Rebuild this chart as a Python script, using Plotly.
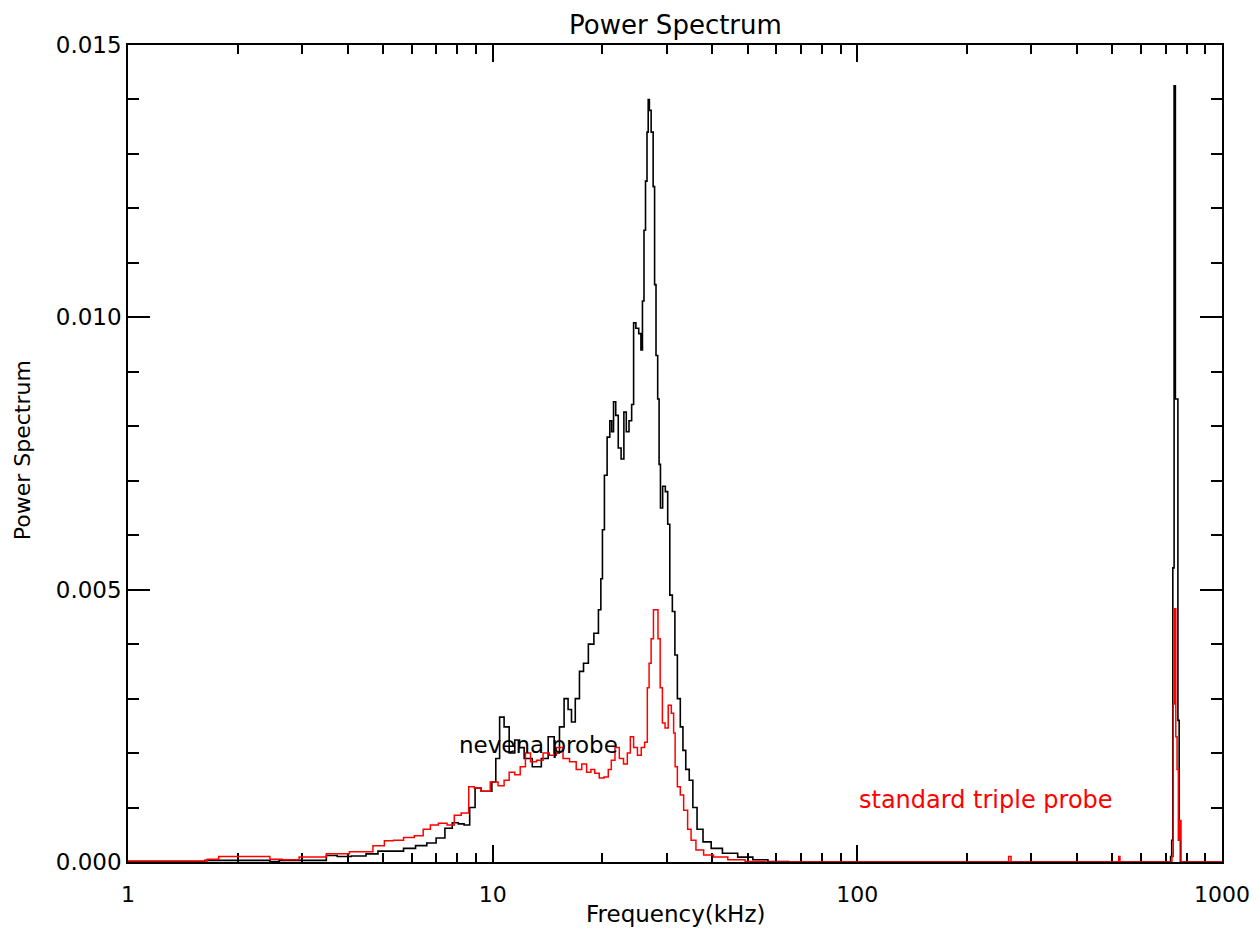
import plotly.graph_objects as go

# ---- data (frequency in kHz, power) ----
nevena_f = [1.0, 1.6, 1.65, 2.4, 2.5, 2.7, 3.4, 3.6, 3.9, 4.3, 4.7, 5.0, 5.5, 5.9, 6.4, 6.8,
            7.2, 7.6, 7.9, 8.2, 8.5, 8.8, 9.1, 9.5, 9.8, 10.1, 10.3, 10.6, 10.9, 11.3, 11.7,
            12.0, 12.4, 13.3, 13.9, 14.5, 15.0, 15.5, 15.9, 16.3, 16.6, 17.1, 17.5, 18.0,
            18.6, 19.3, 19.7, 19.9, 20.1, 20.4, 20.8, 21.1, 21.3, 21.6, 21.9, 22.3, 22.7,
            23.1, 23.4, 23.9, 24.2, 24.5, 24.9, 25.4, 25.6, 25.9, 26.1, 26.4, 26.6, 26.8,
            27.0, 27.4, 27.7, 27.9, 28.2, 28.5, 28.7, 29.0, 29.5, 30.0, 30.4, 30.8, 31.4,
            31.8, 32.4, 33.0, 33.5, 34.2, 35.0, 35.8, 36.9, 38.6, 40.9, 44.5, 49.6, 53.9,
            60.0, 70.0, 720.0, 726.0, 730.0, 736.0, 742.0, 748.0, 754.0, 760.0, 766.0,
            772.0, 1000.0]
nevena_p = [0.00001, 0.00001, 0.00003, 0.00003, 0.00001, 0.00003, 0.00003, 0.00012, 0.0001,
            0.00011, 0.00015, 0.0002, 0.0002, 0.00025, 0.0003, 0.00035, 0.00044, 0.00062,
            0.00072, 0.0007, 0.00068, 0.001, 0.00136, 0.0013, 0.0013, 0.00147, 0.0019,
            0.00266, 0.00248, 0.002, 0.00224, 0.0021, 0.0019, 0.00175, 0.0019, 0.0023,
            0.002, 0.00248, 0.003, 0.0028, 0.00257, 0.003, 0.0035, 0.00365, 0.004, 0.0042,
            0.00463, 0.0052, 0.0061, 0.0071, 0.0078, 0.0081, 0.0079, 0.00845, 0.0082,
            0.0076, 0.0074, 0.00826, 0.0079, 0.0081, 0.0084, 0.0099, 0.0098, 0.0097,
            0.0094, 0.0103, 0.0116, 0.0125, 0.0134, 0.0140, 0.0138, 0.0134, 0.0124, 0.0106,
            0.0093, 0.0085, 0.0073, 0.0065, 0.0069, 0.0068, 0.0062, 0.0049, 0.0046, 0.0038,
            0.003, 0.00248, 0.00205, 0.0017, 0.0015, 0.001, 0.0006, 0.00037, 0.00025,
            0.00016, 0.00009, 0.00004, 0.00001, 0.0, 0.0, 0.0001, 0.0004, 0.0054, 0.01425,
            0.0085, 0.0085, 0.0026, 0.0004, 0.0, 0.0]

triple_f = [1.0, 1.6, 1.7, 1.85, 2.4, 2.5, 2.8, 3.1, 3.4, 3.6, 3.9, 4.2, 4.5, 4.9, 5.2, 5.5,
            5.9, 6.3, 6.6, 6.9, 7.3, 7.7, 8.0, 8.4, 8.8, 9.0, 9.6, 10.1, 10.6, 10.9, 11.3,
            11.7, 12.1, 12.5, 12.9, 13.5, 14.0, 14.6, 15.3, 15.9, 16.6, 17.3, 17.8, 18.4,
            18.8, 19.3, 19.9, 20.5, 21.0, 21.3, 22.0, 22.5, 23.2, 23.6, 24.1, 24.6, 25.3,
            25.8, 26.4, 26.7, 27.0, 27.4, 27.8, 28.2, 28.6, 29.0, 29.4, 30.0, 30.6, 31.2,
            31.5, 31.8, 32.4, 33.0, 33.8, 34.7, 35.3, 36.9, 38.9, 41.8, 46.6, 52.0, 60.0,
            258.0, 262.0, 266.0, 519.0, 523.0, 527.0, 726.0, 732.0, 738.0, 744.0, 750.0,
            756.0, 762.0, 768.0, 776.0, 1000.0]
triple_p = [0.00002, 0.00002, 0.00005, 0.0001, 0.0001, 0.00005, 0.00004, 0.00009, 0.00009,
            0.00015, 0.00015, 0.00019, 0.00019, 0.0003, 0.00039, 0.0004, 0.00045, 0.00048,
            0.0006, 0.00068, 0.00071, 0.00068, 0.00086, 0.0009, 0.00138, 0.00136, 0.0013,
            0.00147, 0.0014, 0.0015, 0.00165, 0.0016, 0.00175, 0.002, 0.00184, 0.00187,
            0.002, 0.00196, 0.0021, 0.0019, 0.00184, 0.0017, 0.0018, 0.00165, 0.0017,
            0.00163, 0.00154, 0.00156, 0.0017, 0.00187, 0.0021, 0.0019, 0.0018, 0.002,
            0.0023, 0.0021, 0.00196, 0.0021, 0.0022, 0.0032, 0.00365, 0.0041, 0.00463,
            0.00463, 0.0041, 0.0032, 0.00255, 0.00246, 0.00288, 0.00273, 0.00237, 0.00175,
            0.00138, 0.00123, 0.00095, 0.0006, 0.0004, 0.00022, 0.00013, 0.00009, 0.00004,
            0.00001, 0.0, 0.0, 0.0001, 0.0, 0.0, 0.0001, 0.0, 0.0, 0.0001, 0.0029, 0.00465,
            0.0023, 0.0017, 0.0004, 0.00076, 0.0, 0.0]

x_major = [1, 10, 100, 1000]
x_major_text = ["1", "10", "100", "1000"]
x_minor = [2, 3, 4, 5, 6, 7, 8, 9, 20, 30, 40, 50, 60, 70, 80, 90,
           200, 300, 400, 500, 600, 700, 800, 900]
y_major = [0.0, 0.005, 0.010, 0.015]
y_major_text = ["0.000", "0.005", "0.010", "0.015"]

FONT = "DejaVu Sans"

fig = go.Figure()
fig.add_trace(go.Scatter(x=nevena_f, y=nevena_p, mode="lines", name="nevena probe",
                         line=dict(color="black", width=1.6, shape="hvh")))
fig.add_trace(go.Scatter(x=triple_f, y=triple_p, mode="lines", name="standard triple probe",
                         line=dict(color="#ff0000", width=1.5, shape="hvh")))

fig.update_layout(
    width=1244, height=922,
    margin=dict(l=120, r=30, t=37, b=68, autoexpand=False),
    paper_bgcolor="white", plot_bgcolor="white",
    showlegend=False,
    font=dict(family=FONT, size=23, color="black"),
    xaxis=dict(type="log", range=[0, 3], showgrid=False, zeroline=False, automargin=False,
               showline=True, linecolor="black", linewidth=1.5, mirror="ticks",
               ticks="inside", ticklen=17, tickwidth=1.5, tickcolor="black",
               tickmode="array", tickvals=x_major, ticktext=x_major_text,
               ticklabelstandoff=12, ticklabeloverflow="allow", layer="below traces",
               tickfont=dict(family=FONT, size=22, color="black"),
               minor=dict(ticks="inside", ticklen=9, tickwidth=1.5, tickcolor="black",
                          tickmode="array", tickvals=x_minor, showgrid=False)),
    yaxis=dict(range=[0, 0.015], showgrid=False, zeroline=False, automargin=False,
               showline=True, linecolor="black", linewidth=1.5, mirror="ticks",
               ticks="inside", ticklen=22, tickwidth=1.5, tickcolor="black",
               tickmode="array", tickvals=y_major, ticktext=y_major_text,
               ticklabelstandoff=0, ticklabeloverflow="allow", layer="below traces",
               minor=dict(ticks="inside", ticklen=11, tickwidth=1.5, tickcolor="black",
                          dtick=0.001, showgrid=False)),
    annotations=[
        dict(text="Power Spectrum", xref="paper", yref="paper", x=0.5, y=1.0245,
             xanchor="center", yanchor="middle", showarrow=False,
             font=dict(family=FONT, size=26, color="black")),
        dict(text="Frequency(kHz)", xref="paper", yref="paper", x=0.5, y=-0.0635,
             xanchor="center", yanchor="middle", showarrow=False,
             font=dict(family=FONT, size=23, color="black")),
        dict(text="Power Spectrum", xref="paper", yref="paper", x=-0.0969, y=0.504,
             xanchor="center", yanchor="middle", textangle=-90, showarrow=False,
             font=dict(family=FONT, size=22, color="black")),
        dict(text="nevena probe", xref="x", yref="y", x=0.903, y=0.002,
             xanchor="left", yanchor="middle", yshift=8, showarrow=False,
             font=dict(family=FONT, size=23, color="black")),
        dict(text="standard triple probe", xref="x", yref="y", x=2.0, y=0.001,
             xanchor="left", yanchor="middle", yshift=8, showarrow=False,
             font=dict(family=FONT, size=24, color="#ff0000")),
    ],
)

fig.write_html("out.html", config={"displayModeBar": False})
